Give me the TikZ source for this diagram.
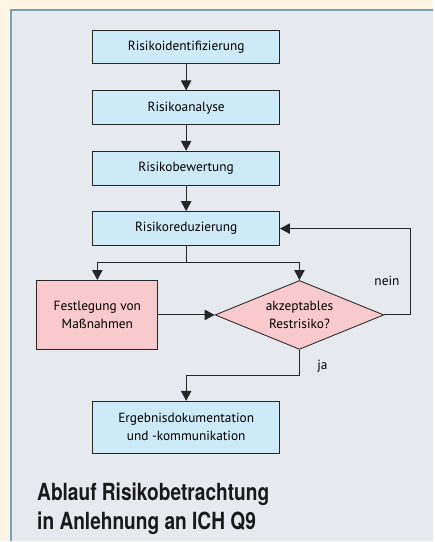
\documentclass[tikz,border=0pt]{standalone}
\usepackage{fontspec}
\setmainfont{PT Sans}
\newfontfamily\titelfont[FakeStretch=0.81]{TeX Gyre Heros}
\usetikzlibrary{arrows.meta,shapes.geometric}

\definecolor{creme}{HTML}{FEF5E6}
\definecolor{panel}{HTML}{E6EAEE}
\definecolor{rand}{HTML}{7C9FAB}
\definecolor{hellblau}{HTML}{CDEAF8}
\definecolor{rosa}{HTML}{F8CACD}
\definecolor{strich}{HTML}{262626}

\tikzset{
  schritt/.style={draw=strich, fill=hellblau, line width=0.6pt, minimum width=4.675cm,
    minimum height=0.85cm, inner sep=0pt, align=center,
    font=\fontsize{9.5}{12.8}\selectfont},
  massnahme/.style={schritt, fill=rosa, minimum width=3.025cm, minimum height=1.725cm},
  frage/.style={diamond, draw=strich, fill=rosa, line width=0.6pt, aspect=2.45,
    minimum width=4.225cm, minimum height=1.725cm, inner sep=0pt, align=center,
    font=\fontsize{9.5}{12.8}\selectfont},
  pfeil/.style={draw=strich, line width=0.7pt, -{Triangle[length=2.5mm,width=2.6mm]}},
  marke/.style={font=\fontsize{9.5}{12.8}\selectfont}
}

\begin{document}
\begin{tikzpicture}[x=0.025cm,y=-0.025cm]
% Hintergrund
\fill[creme] (0,0) rectangle (434,542);
\fill[panel] (11,10) rectangle (434,542);
\draw[rand, line width=1.4pt] (11,542) -- (11,10) -- (434,10);

% Schritte
\node[schritt] (ident) at (186.5,47) {Risikoidentifizierung};
\node[schritt] (analyse) at (186.5,108) {Risikoanalyse};
\node[schritt] (bewert) at (186.5,168.5) {Risikobewertung};
\node[schritt] (reduz) at (186.5,229) {Risikoreduzierung};
\node[massnahme] (festl) at (97.5,315.5) {Festlegung von\\Maßnahmen};
\node[frage] (akzept) at (300,315.5) {akzeptables\\Restrisiko?};
\node[schritt, minimum height=1.3cm] (ergeb) at (186.5,428) {Ergebnisdokumentation\\und -kommunikation};

% Pfeile
\draw[pfeil] (ident) -- (analyse);
\draw[pfeil] (analyse) -- (bewert);
\draw[pfeil] (bewert) -- (reduz);
\draw[draw=strich, line width=0.7pt] (reduz.south) -- ++(0,17) coordinate (teilung);
\draw[pfeil] (teilung) -| (festl.north);
\draw[pfeil] (teilung) -| (akzept.north);
\draw[pfeil] (festl) -- (akzept);
\draw[pfeil] (akzept.east) -- ++(26,0) |- (reduz.east)
  node[marke, pos=0.2, left=4pt] {nein};
\draw[pfeil] (akzept.south) -- ++(0,26) node[marke, pos=0.65, right=9pt] {ja}
  -| (ergeb.north);

% Titel
\node[anchor=north west, inner sep=0pt, align=left, text=black!90,
  font=\titelfont\bfseries\fontsize{16.8}{20.4}\selectfont] (titel) at (37,484)
  {Ablauf Risikobetrachtung\\in Anlehnung an ICH Q9};
\end{tikzpicture}
\end{document}
